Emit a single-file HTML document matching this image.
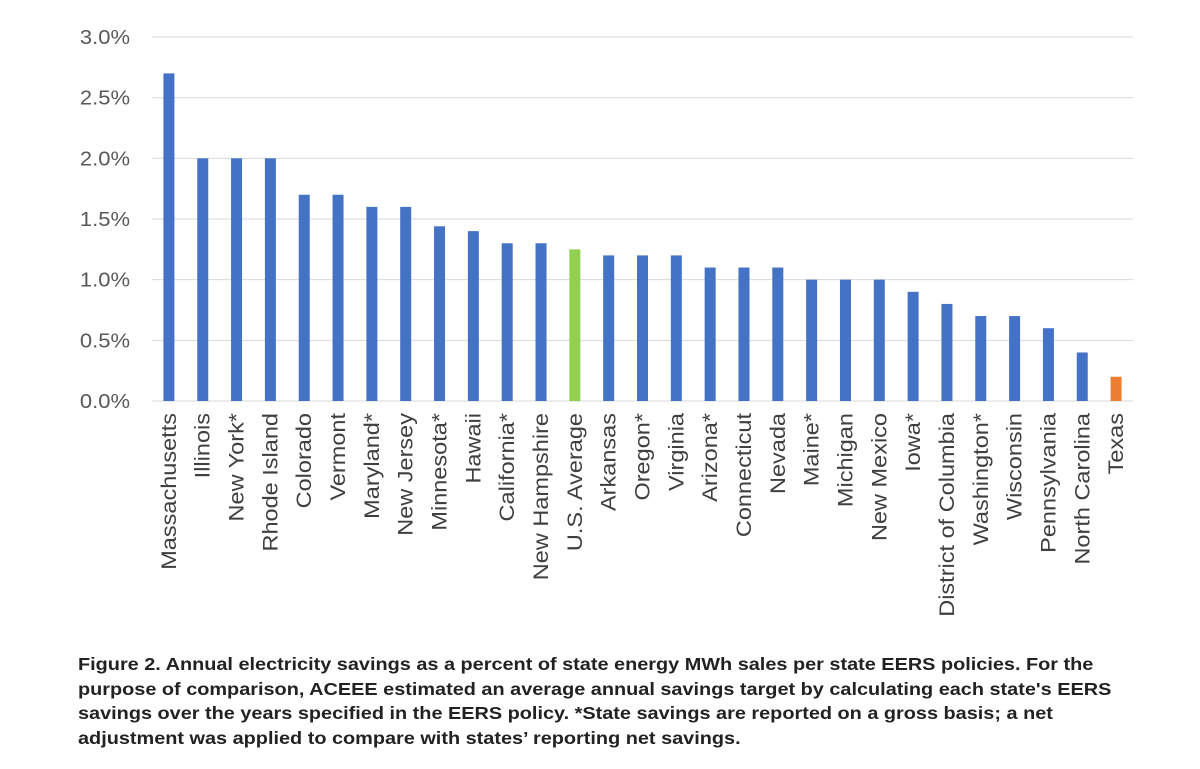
<!DOCTYPE html>
<html><head><meta charset="utf-8"><style>
body{margin:0;background:#fff;width:1200px;height:769px;overflow:hidden;font-family:"Liberation Sans",sans-serif}
#cap{position:absolute;left:78px;top:652px;width:1100px;font-size:17.3px;font-weight:bold;line-height:24.5px;color:#222;white-space:nowrap;transform:scaleX(1.15);transform-origin:0 0}
</style></head><body>
<svg id="chart" width="1200" height="650" style="position:absolute;left:0;top:0"></svg>
<div id="cap">Figure 2. Annual electricity savings as a percent of state energy MWh sales per state EERS policies. For the<br>purpose of comparison, ACEEE estimated an average annual savings target by calculating each state's EERS<br>savings over the years specified in the EERS policy. *State savings are reported on a gross basis; a net<br>adjustment was applied to compare with states’ reporting net savings.</div>
<script>
const categories=["Massachusetts","Illinois","New York*","Rhode Island","Colorado","Vermont","Maryland*","New Jersey","Minnesota*","Hawaii","California*","New Hampshire","U.S. Average","Arkansas","Oregon*","Virginia","Arizona*","Connecticut","Nevada","Maine*","Michigan","New Mexico","Iowa*","District of Columbia","Washington*","Wisconsin","Pennsylvania","North Carolina","Texas"];
const values=[2.7,2.0,2.0,2.0,1.7,1.7,1.6,1.6,1.44,1.4,1.3,1.3,1.25,1.2,1.2,1.2,1.1,1.1,1.1,1.0,1.0,1.0,0.9,0.8,0.7,0.7,0.6,0.4,0.2];
const ticks=[0,0.5,1.0,1.5,2.0,2.5,3.0];
const tickLabels=["0.0%","0.5%","1.0%","1.5%","2.0%","2.5%","3.0%"];
const svg=document.getElementById('chart');const NS="http://www.w3.org/2000/svg";
const x0=152,x1=1133,y0=401,y1=37,ymax=3.0;
const y=v=>y0-(v/ymax)*(y0-y1);
const step=(x1-x0)/categories.length;
const xc=i=>x0+step*(i+0.5);
function mk(t,a){const e=document.createElementNS(NS,t);for(const k in a)e.setAttribute(k,a[k]);svg.appendChild(e);return e;}
ticks.forEach((t,i)=>{
 const g=mk('line',{x1:x0,x2:x1,y1:y(t),y2:y(t),stroke:'#d9d9d9','stroke-width':1});
 
 
 const l=mk('text',{x:0,y:0,'text-anchor':'end','font-size':20,fill:'#595959',transform:`translate(130,${y(t)+7}) scale(1.1,1)`});
 l.textContent=tickLabels[i];
 
 
});
categories.forEach((c,i)=>{
 let col='#4472C4';if(c==="U.S. Average")col='#92D050';if(c==="Texas")col='#ED7D31';
 const b=mk('rect',{x:xc(i)-5.5,y:y(values[i]),width:11,height:y0-y(values[i]),fill:col});
 
 
 const t=mk('text',{x:0,y:0,'text-anchor':'end','font-size':21,fill:'#404040',transform:`translate(${xc(i)+7},413) rotate(-90) scale(1.12,1)`});
 t.textContent=c;
 
 
});
</script>
</body></html>
